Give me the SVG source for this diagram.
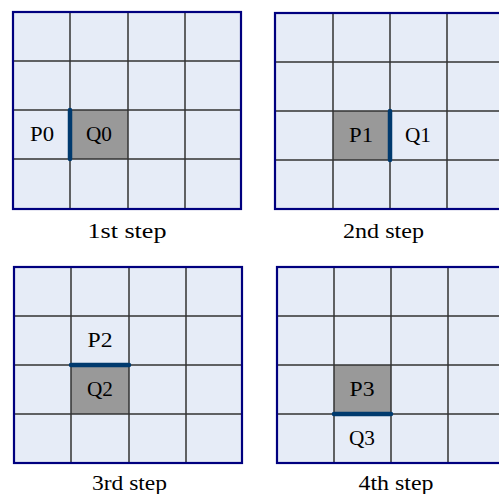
<svg xmlns="http://www.w3.org/2000/svg" width="499" height="494" viewBox="0 0 499 494">
<style>
.bg{fill:#e6ecf7}
.cell{fill:#999999}
.grid{stroke:#333333;stroke-width:1.5;fill:none}
.frame{fill:none;stroke:#00007f;stroke-width:2.2}
.bar{stroke:#003a6e;stroke-width:4.5;stroke-linecap:round}
.lbl{font-size:20px;fill:#000;text-anchor:middle}
.cap{font-size:22px;fill:#000;text-anchor:middle}
</style>
<rect width="499" height="494" fill="#ffffff"/>
<g font-family="Liberation Serif, Times New Roman, serif">
<g id="grid1">
<rect class="bg" x="13" y="12" width="228" height="197"/>
<rect class="cell" x="70" y="110" width="58" height="49"/>
<path class="grid" d="M70 12V209M128 12V209M185 12V209M13 61H241M13 110H241M13 159H241"/>
<rect class="frame" x="13" y="12" width="228" height="197"/>
<line class="bar" x1="70" y1="110" x2="70" y2="159"/>
<text class="lbl" x="42" y="141" textLength="24" lengthAdjust="spacingAndGlyphs">P0</text>
<text class="lbl" x="99" y="141" textLength="26" lengthAdjust="spacingAndGlyphs">Q0</text>
<text class="cap" x="127" y="238" textLength="79" lengthAdjust="spacingAndGlyphs">1st  step</text>
</g>
<g id="grid2">
<rect class="bg" x="275" y="13" width="230" height="196"/>
<rect class="cell" x="333" y="111" width="57" height="49"/>
<path class="grid" d="M333 13V209M390 13V209M447 13V209M275 62H505M275 111H505M275 160H505"/>
<rect class="frame" x="275" y="13" width="230" height="196"/>
<line class="bar" x1="390" y1="111" x2="390" y2="160"/>
<text class="lbl" x="361" y="142" textLength="24" lengthAdjust="spacingAndGlyphs">P1</text>
<text class="lbl" x="418" y="142" textLength="26" lengthAdjust="spacingAndGlyphs">Q1</text>
<text class="cap" x="383.5" y="238" textLength="81" lengthAdjust="spacingAndGlyphs">2nd step</text>
</g>
<g id="grid3">
<rect class="bg" x="14" y="267" width="228" height="196"/>
<rect class="cell" x="71" y="365" width="58" height="49"/>
<path class="grid" d="M71 267V463M129 267V463M186 267V463M14 316H242M14 365H242M14 414H242"/>
<rect class="frame" x="14" y="267" width="228" height="196"/>
<line class="bar" x1="71" y1="365" x2="129" y2="365"/>
<text class="lbl" x="100" y="347" textLength="25" lengthAdjust="spacingAndGlyphs">P2</text>
<text class="lbl" x="100" y="396" textLength="26" lengthAdjust="spacingAndGlyphs">Q2</text>
<text class="cap" x="129.5" y="490" textLength="75" lengthAdjust="spacingAndGlyphs">3rd step</text>
</g>
<g id="grid4">
<rect class="bg" x="277" y="267" width="228" height="196"/>
<rect class="cell" x="334" y="365" width="57" height="49"/>
<path class="grid" d="M334 267V463M391 267V463M448 267V463M277 316H505M277 365H505M277 414H505"/>
<rect class="frame" x="277" y="267" width="228" height="196"/>
<line class="bar" x1="334" y1="414" x2="391" y2="414"/>
<text class="lbl" x="362" y="396" textLength="25" lengthAdjust="spacingAndGlyphs">P3</text>
<text class="lbl" x="362" y="445" textLength="26" lengthAdjust="spacingAndGlyphs">Q3</text>
<text class="cap" x="396" y="490" textLength="75" lengthAdjust="spacingAndGlyphs">4th step</text>
</g>
</g>
<g id="connectors"></g>
</svg>
